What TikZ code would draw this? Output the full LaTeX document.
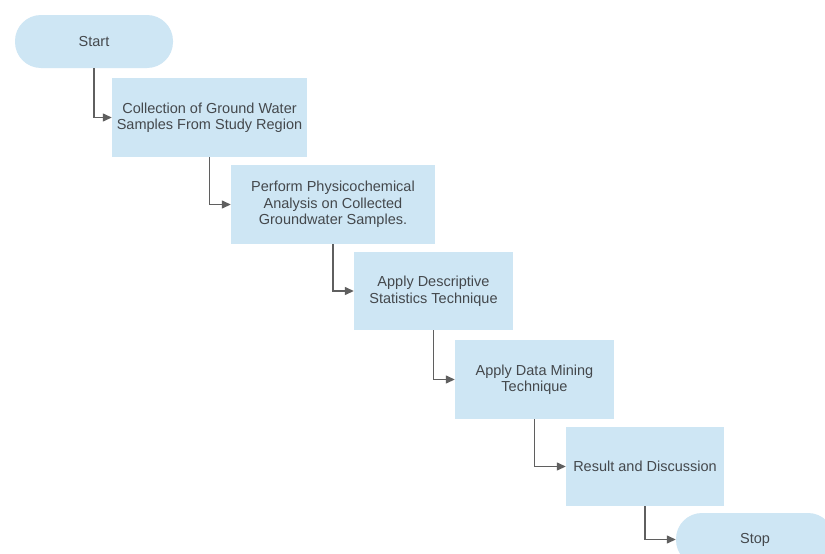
\documentclass[tikz,border=0pt]{standalone}
\usepackage{fontspec}
\setmainfont{Liberation Sans}
\usetikzlibrary{arrows.meta}
\definecolor{boxfill}{RGB}{206,230,244}
\definecolor{txt}{RGB}{68,72,76}
\definecolor{linec}{RGB}{95,95,95}
\tikzset{
  procbox/.style={rectangle, fill=boxfill, draw=none, text=txt, align=center,
    font=\fontsize{14.5}{16.5}\selectfont, inner sep=0pt},
  termbox/.style={procbox, rounded corners=26pt, minimum width=158pt, minimum height=53pt},
  conn/.style={draw=linec, line width=1.3pt, -{Triangle[length=9pt,width=8pt]}}
}
\begin{document}
\begin{tikzpicture}[x=1pt,y=-1pt]
\useasboundingbox (0,0) rectangle (825,554);
\clip (0,0) rectangle (825,554);
\fill[white] (0,0) rectangle (825,554);
\node[termbox] (start) at (94,41.5) {Start};
\node[procbox, minimum width=195pt, minimum height=79pt] (b1) at (209.5,117.5)
  {Collection of Ground Water\\Samples From Study Region};
\node[procbox, minimum width=204pt, minimum height=79pt] (b2) at (333,204.5)
  {Perform Physicochemical\\Analysis on Collected\\Groundwater Samples.};
\node[procbox, minimum width=159pt, minimum height=78pt] (b3) at (433.5,291)
  {Apply Descriptive\\Statistics Technique};
\node[procbox, minimum width=159pt, minimum height=79pt] (b4) at (534.5,379.5)
  {Apply Data Mining\\Technique};
\node[procbox, minimum width=158pt, minimum height=79pt] (b5) at (645,466.5)
  {Result and Discussion};
\node[termbox] (stop) at (755,539.5) {Stop};
\draw[conn] (start.south) |- (b1.west);
\draw[conn] (b1.south) |- (b2.west);
\draw[conn] (b2.south) |- (b3.west);
\draw[conn] (b3.south) |- (b4.west);
\draw[conn] (b4.south) |- (b5.west);
\draw[conn] (b5.south) |- (stop.west);
\end{tikzpicture}
\end{document}
